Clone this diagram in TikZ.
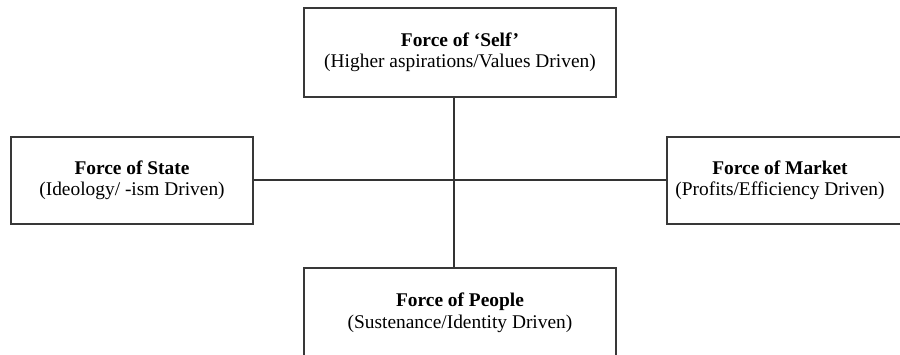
\documentclass[tikz,border=0pt]{standalone}
\usepackage{fontspec}
\setmainfont{Liberation Serif}
\begin{document}
\begin{tikzpicture}[x=1pt,y=-1pt,
  box/.style={draw=black!78, line width=1.8pt, rectangle, inner sep=0pt, align=center,
    font=\fontsize{19.4}{21.5}\selectfont},
  txt/.style={inner sep=0pt, align=center, font=\fontsize{19.4}{21.5}\selectfont},
  link/.style={draw=black!80, line width=1.6pt}]
\useasboundingbox (0,0) rectangle (900,354);
\clip (0,0) rectangle (900,354);
\node[box, minimum width=312pt, minimum height=89pt] (self) at (460,52.5)
  {\textbf{Force of ‘Self’}\\(Higher aspirations/Values Driven)};
\node[box, minimum width=242pt, minimum height=87pt] (state) at (132,180.5)
  {\textbf{Force of State}\\(Ideology/ -ism Driven)};
\node[box, minimum width=238pt, minimum height=87pt] (market) at (786,180.5) {};
\node[txt] (markettext) at (780,180.5)
  {\textbf{Force of Market}\\(Profits/Efficiency Driven)};
\node[box, minimum width=312pt, minimum height=90pt] (people) at (460,313)
  {\textbf{Force of People}\\(Sustenance/Identity Driven)};
\coordinate (cross) at (454,180);
\draw[link] (state.east |- cross) -- (market.west |- cross);
\draw[link] (self.south -| cross) -- (people.north -| cross);
\end{tikzpicture}
\end{document}
